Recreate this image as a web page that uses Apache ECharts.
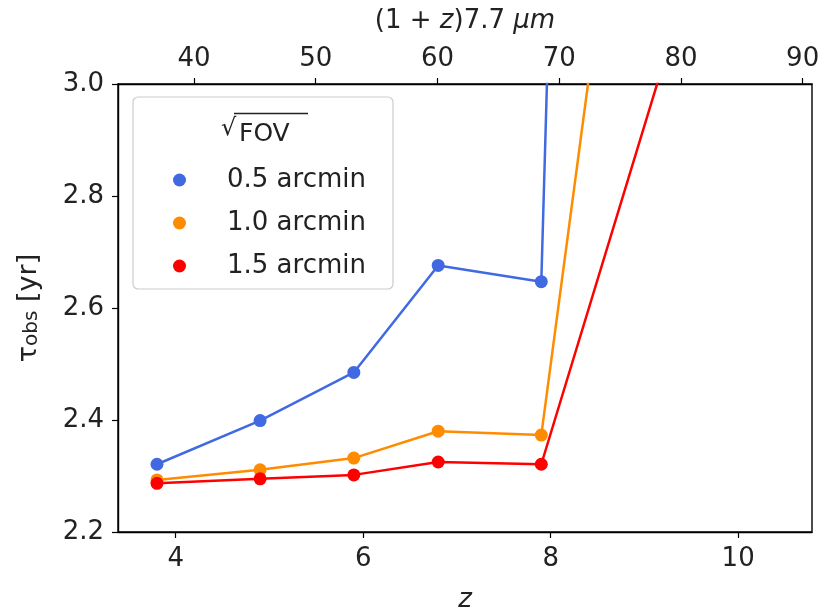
<!DOCTYPE html>
<html>
<head>
<meta charset="utf-8">
<script src="https://cdn.jsdelivr.net/npm/echarts@6/dist/echarts.min.js"></script>
<style>
  html, body { margin: 0; padding: 0; background: #fff; }
  #chart { width: 821px; height: 610px; }
</style>
</head>
<body>
<div id="chart"></div>
<script>
// Redshift samples
const redshift = [3.8, 4.9, 5.9, 6.8, 7.9, 9.9];
// Observation time (yr) for each field of view
const tau05 = [2.321, 2.399, 2.485, 2.676, 2.647, 14.4];
const tau10 = [2.293, 2.311, 2.332, 2.380, 2.373, 4.89];
const tau15 = [2.287, 2.295, 2.302, 2.325, 2.321, 3.42];

const seriesNames = ['0.5 arcmin', '1.0 arcmin', '1.5 arcmin'];
const seriesColors = ['#4169E1', '#FF8C00', '#FF0000'];

const zTicks = [4, 6, 8, 10];
const lambdaTicks = [40, 50, 60, 70, 80, 90];
const restWavelength = 7.7;

const zMin = 3.384, zMax = 10.788;

const FONT = 'DejaVu Sans';
const TXT = '#222';
const FS = 26;

function pairs(values) {
  return redshift.map((z, i) => [z, values[i]]);
}

function lineSeries(name, values, color) {
  return {
    name: name,
    type: 'line',
    xAxisIndex: 0,
    yAxisIndex: 0,
    data: pairs(values),
    symbol: 'circle',
    symbolSize: 13,
    clip: true,
    itemStyle: { color: color },
    lineStyle: { color: color, width: 2.5 },
    emphasis: { disabled: true },
    animation: false
  };
}

const chart = echarts.init(document.getElementById('chart'), null, { renderer: 'canvas' });

const option = {
  animation: false,
  backgroundColor: '#fff',
  textStyle: { fontFamily: FONT },
  grid: {
    left: 118, right: 9, top: 84, bottom: 78,
    outerBoundsMode: 'none',
    containLabel: false,
    show: true, borderColor: '#000', borderWidth: 1.4,
    backgroundColor: 'transparent'
  },
  xAxis: [
    {
      type: 'value',
      position: 'bottom',
      min: zMin, max: zMax,
      name: 'z',
      nameLocation: 'middle',
      nameGap: 55,
      nameTextStyle: { fontFamily: FONT, fontSize: FS, fontStyle: 'italic', color: TXT },
      axisLine: { show: true, onZero: false, lineStyle: { color: '#000', width: 1.4 } },
      axisTick: { show: true, inside: false, length: 6, customValues: zTicks, lineStyle: { color: '#000', width: 1.2 } },
      axisLabel: { customValues: zTicks, margin: 14, fontFamily: FONT, fontSize: FS, color: TXT },
      splitLine: { show: false }
    },
    {
      type: 'value',
      position: 'top',
      min: (1 + zMin) * restWavelength,
      max: (1 + zMax) * restWavelength,
      name: '{n|(1 + }{i|z}{n|)7.7 }{i|μm}',
      nameLocation: 'middle',
      nameGap: 50,
      nameTextStyle: {
        rich: {
          n: { fontFamily: FONT, fontSize: FS, color: TXT },
          i: { fontFamily: FONT, fontSize: FS, fontStyle: 'italic', color: TXT }
        }
      },
      axisLine: { show: true, onZero: false, lineStyle: { color: '#000', width: 1.4 } },
      axisTick: { show: true, inside: false, length: 6, customValues: lambdaTicks, lineStyle: { color: '#000', width: 1.2 } },
      axisLabel: { customValues: lambdaTicks, margin: 12, fontFamily: FONT, fontSize: FS, color: TXT },
      splitLine: { show: false }
    }
  ],
  yAxis: {
    type: 'value',
    min: 2.2, max: 3.0, interval: 0.2,
    name: '{t|τ}{s|obs}{t| [yr]}',
    nameLocation: 'middle',
    nameRotate: 90,
    nameGap: 76,
    nameTextStyle: {
      rich: {
        t: { fontFamily: FONT, fontSize: 27, color: TXT, verticalAlign: 'bottom', lineHeight: 31 },
        s: { fontFamily: FONT, fontSize: 20, color: TXT, verticalAlign: 'bottom', lineHeight: 25 }
      }
    },
    axisLine: { show: true, lineStyle: { color: '#000', width: 1.4 } },
    axisTick: { show: true, inside: false, length: 6, lineStyle: { color: '#000', width: 1.2 } },
    axisLabel: {
      margin: 14, fontFamily: FONT, fontSize: FS, color: TXT,
      formatter: v => v.toFixed(1)
    },
    splitLine: { show: false }
  },
  legend: {
    orient: 'vertical',
    left: 168, top: 160,
    z: 20,
    icon: 'circle',
    itemWidth: 13, itemHeight: 13,
    itemGap: 13,
    selectedMode: false,
    data: seriesNames,
    textStyle: { fontFamily: FONT, fontSize: FS, color: TXT, lineHeight: 30, padding: [0, 0, 0, 36] }
  },
  graphic: [
    {
      type: 'rect',
      shape: { x: 133, y: 97, width: 260, height: 192, r: 5 },
      style: { fill: 'rgba(255,255,255,0.8)', stroke: '#cccccc', lineWidth: 1.2 },
      z: 3
    },
    {
      type: 'text',
      x: 221, y: 129,
      style: { text: '√', fontFamily: FONT, fontSize: 24, fill: TXT, verticalAlign: 'middle' },
      z: 6
    },
    {
      type: 'text',
      x: 239, y: 134,
      style: { text: 'FOV', fontFamily: FONT, fontSize: 25, fill: TXT, verticalAlign: 'middle' },
      z: 6
    },
    {
      type: 'line',
      shape: { x1: 234, y1: 113.5, x2: 308, y2: 113.5 },
      style: { stroke: TXT, lineWidth: 1.3 },
      z: 6
    }
  ],
  series: [
    lineSeries(seriesNames[0], tau05, seriesColors[0]),
    lineSeries(seriesNames[1], tau10, seriesColors[1]),
    lineSeries(seriesNames[2], tau15, seriesColors[2])
  ]
};

chart.setOption(option);
</script>
</body>
</html>
